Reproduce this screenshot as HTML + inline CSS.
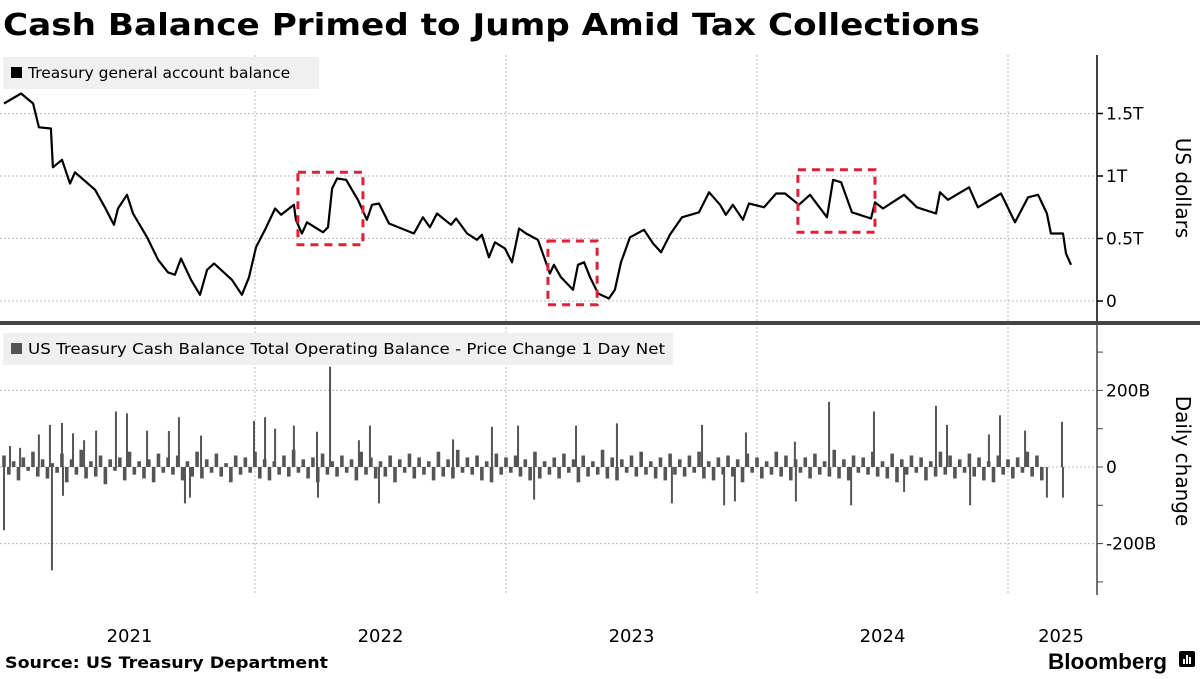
<!DOCTYPE html>
<html><head><meta charset="utf-8"><style>
body{margin:0;background:#fff;width:1200px;height:675px;overflow:hidden;font-family:"DejaVu Sans",sans-serif}
svg text{font-family:"DejaVu Sans",sans-serif}
</style></head><body>
<svg id="c" width="1200" height="675" xmlns="http://www.w3.org/2000/svg">
<text x="3" y="35" font-size="30" font-weight="bold" fill="#000" textLength="977" lengthAdjust="spacingAndGlyphs">Cash Balance Primed to Jump Amid Tax Collections</text>
<g id="grid"></g>
<rect x="3" y="57" width="316" height="32" fill="#f0f0f0"/>
<rect x="11" y="67" width="11" height="11" fill="#000"/>
<text x="28" y="78" font-size="15.5" fill="#000">Treasury general account balance</text>
<rect x="3" y="333" width="670" height="32" fill="#f0f0f0"/>
<rect x="11" y="343" width="11" height="11" fill="#555"/>
<text x="28" y="354" font-size="15.5" fill="#000" textLength="637" lengthAdjust="spacingAndGlyphs">US Treasury Cash Balance Total Operating Balance - Price Change 1 Day Net</text>
<g id="bars"></g>
<path id="line" fill="none" stroke="#000" stroke-width="2.2" stroke-linejoin="round"/>
<g id="boxes"></g>
<g id="axes"></g>
<rect x="0" y="321" width="1200" height="4" fill="#444"/>
<text transform="translate(1176,188) rotate(90)" text-anchor="middle" font-size="20" fill="#000">US dollars</text>
<text transform="translate(1176,461) rotate(90)" text-anchor="middle" font-size="20" fill="#000">Daily change</text>
<text x="5" y="668" font-size="16" font-weight="bold" fill="#000" textLength="323" lengthAdjust="spacingAndGlyphs">Source: US Treasury Department</text>
<text x="1167" y="669" text-anchor="end" font-size="22" font-weight="bold" fill="#000" style="font-family:'Liberation Sans',sans-serif" textLength="119" lengthAdjust="spacingAndGlyphs">Bloomberg</text>
<g><rect x="1179" y="651" width="16" height="16" rx="2" fill="#000"/><rect x="1183" y="659" width="2" height="5" fill="#fff"/><rect x="1186" y="655" width="2" height="9" fill="#fff"/><rect x="1189" y="657" width="2" height="7" fill="#fff"/></g>
</svg>
<script>
const lineDates=[2021.000,2021.068,2021.116,2021.139,2021.187,2021.195,2021.231,2021.263,2021.283,2021.363,2021.402,2021.438,2021.454,2021.490,2021.514,2021.570,2021.614,2021.653,2021.681,2021.705,2021.745,2021.781,2021.809,2021.837,2021.908,2021.948,2021.976,2022.004,2022.040,2022.080,2022.104,2022.155,2022.163,2022.187,2022.207,2022.271,2022.291,2022.307,2022.327,2022.363,2022.410,2022.446,2022.466,2022.494,2022.534,2022.633,2022.669,2022.697,2022.725,2022.781,2022.801,2022.845,2022.884,2022.904,2022.932,2022.956,2022.996,2023.024,2023.052,2023.080,2023.127,2023.175,2023.191,2023.219,2023.267,2023.287,2023.311,2023.335,2023.367,2023.410,2023.434,2023.458,2023.494,2023.550,2023.586,2023.618,2023.653,2023.701,2023.769,2023.809,2023.853,2023.876,2023.904,2023.944,2023.968,2024.028,2024.076,2024.112,2024.167,2024.211,2024.279,2024.303,2024.335,2024.378,2024.454,2024.470,2024.502,2024.586,2024.637,2024.713,2024.729,2024.761,2024.845,2024.880,2024.972,2025.028,2025.080,2025.120,2025.155,2025.171,2025.219,2025.231,2025.251];
const lineValues=[1.58,1.66,1.58,1.39,1.38,1.07,1.13,0.94,1.03,0.89,0.75,0.61,0.74,0.85,0.70,0.51,0.33,0.23,0.21,0.34,0.17,0.05,0.25,0.30,0.17,0.05,0.19,0.43,0.57,0.74,0.69,0.77,0.65,0.54,0.63,0.55,0.59,0.90,0.98,0.97,0.81,0.65,0.77,0.78,0.62,0.54,0.67,0.59,0.70,0.61,0.66,0.54,0.49,0.53,0.35,0.47,0.42,0.31,0.58,0.54,0.49,0.22,0.29,0.19,0.09,0.29,0.31,0.19,0.06,0.02,0.09,0.31,0.51,0.57,0.46,0.39,0.53,0.67,0.71,0.87,0.77,0.69,0.77,0.65,0.78,0.75,0.86,0.86,0.77,0.85,0.67,0.97,0.95,0.71,0.66,0.79,0.74,0.85,0.75,0.70,0.87,0.81,0.91,0.75,0.86,0.63,0.83,0.85,0.70,0.54,0.54,0.38,0.29];
const weeklyChange=[30,-20,15,-35,25,-10,40,-25,20,-30,10,-15,35,-40,20,-20,45,-30,15,-25,30,-45,20,-10,25,-35,40,-20,15,-30,20,-40,35,-15,25,-20,30,-35,15,-25,40,-30,20,-15,35,-25,10,-40,30,-20,25,-15,40,-30,20,-35,15,-20,30,-25,45,-15,20,-30,25,-40,35,-20,15,-25,30,-15,20,-35,40,-20,25,-30,15,-25,30,-40,20,-15,35,-30,25,-20,15,-35,40,-25,20,-30,45,-15,25,-20,30,-35,15,-40,35,-20,25,-15,30,-25,20,-35,40,-30,15,-20,25,-30,35,-15,20,-40,30,-25,15,-20,45,-30,25,-35,20,-15,30,-25,40,-20,15,-30,25,-35,35,-20,20,-25,30,-15,40,-30,15,-35,25,-20,30,-25,20,-40,35,-15,25,-30,15,-20,40,-25,30,-35,20,-15,25,-30,35,-20,15,-25,45,-30,20,-35,30,-15,25,-20,40,-25,15,-30,35,-40,20,-20,30,-15,25,-35,15,-25,40,-20,30,-30,20,-15,35,-25,25,-35,15,-40,30,-20,20,-30,25,-15,40,-25,30,-35];
const spikeDates=[2021.000,2021.024,2021.064,2021.139,2021.183,2021.191,2021.231,2021.235,2021.275,2021.319,2021.367,2021.446,2021.490,2021.570,2021.657,2021.697,2021.721,2021.741,2021.785,2021.996,2022.040,2022.080,2022.155,2022.247,2022.251,2022.299,2022.414,2022.458,2022.494,2022.789,2022.944,2023.048,2023.112,2023.279,2023.442,2023.661,2023.781,2023.869,2023.912,2023.956,2024.151,2024.155,2024.287,2024.375,2024.466,2024.586,2024.713,2024.757,2024.849,2024.924,2024.968,2025.068,2025.155,2025.215,2025.219];
const spikeValues=[-165,55,50,85,110,-270,115,-75,88,70,95,145,140,95,94,130,-95,-80,82,120,130,100,108,92,-80,262,70,108,-95,72,105,108,-85,108,114,-95,110,-100,-90,90,66,-90,170,-100,145,-65,160,110,-100,85,135,95,-80,118,-80];
const topTicks=[0,0.5,1,1.5], topTickLabels=["0","0.5T","1T","1.5T"];
const botTicks=[-200,0,200], botTickLabels=["-200B","0","200B"];
const years=[2021,2022,2023,2024,2025], yearLabels=["2021","2022","2023","2024","2025"];
const boxX0=[2022.171,2023.167,2024.163], boxX1=[2022.430,2023.363,2024.470], boxTop=[1.03,0.48,1.05], boxBot=[0.45,-0.03,0.55];

const NS="http://www.w3.org/2000/svg";
const X=t=>4+(t-2021)*251;
const Yt=v=>301-v*125;
const Yb=v=>467-v*0.383;
function mk(tag,attrs,parent){const e=document.createElementNS(NS,tag);for(const k in attrs)e.setAttribute(k,attrs[k]);parent.appendChild(e);return e;}
const grid=document.getElementById('grid'),axes=document.getElementById('axes'),bars=document.getElementById('bars'),boxes=document.getElementById('boxes');
for(let i=1;i<years.length;i++){const x=X(years[i]);
 const g=mk('line',{x1:x,x2:x,y1:55,y2:595,stroke:'#bbb','stroke-width':1,'stroke-dasharray':'2,2'},grid);
 
 }
topTicks.forEach((v,i)=>{const y=Yt(v);
 const g=mk('line',{x1:0,x2:1097,y1:y,y2:y,stroke:'#bbb','stroke-width':1,'stroke-dasharray':'2,2'},grid);
 
 
 const t=mk('line',{x1:1097,x2:1103,y1:y,y2:y,stroke:'#000','stroke-width':1.5},axes);
 
 
 const l=mk('text',{x:1106,y:y+6,'font-size':17,fill:'#000'},axes);l.textContent=topTickLabels[i];
 
 });
botTicks.forEach((v,i)=>{const y=Yb(v);
 const g=mk('line',{x1:0,x2:1097,y1:y,y2:y,stroke:'#bbb','stroke-width':1,'stroke-dasharray':'2,2'},grid);
 
 
 const l=mk('text',{x:1106,y:y+6,'font-size':17,fill:'#000'},axes);l.textContent=botTickLabels[i];
 
 });
for(let v=-300;v<=300;v+=100){const y=Yb(v);
 const t=mk('line',{x1:1097,x2:1103,y1:y,y2:y,stroke:'#444','stroke-width':1},axes);
 
 }
const a1=mk('line',{x1:1097,x2:1097,y1:55,y2:321,stroke:'#000','stroke-width':1.5},axes);


const a2=mk('line',{x1:1097,x2:1097,y1:325,y2:595,stroke:'#444','stroke-width':1.5},axes);


years.forEach((yr,i)=>{const mid=i<years.length-1?(X(yr)+X(yr+1))/2:X(yr)+53;
 const l=mk('text',{x:mid,y:642,'font-size':18,fill:'#000','text-anchor':'middle'},axes);l.textContent=yearLabels[i];
 
 });
weeklyChange.forEach((v,i)=>{const x=X(2021+i/52);const y0=Yb(0),y=Yb(v);
 const b=mk('rect',{x:x-1.8,y:Math.min(y0,y),width:3.6,height:Math.max(1,Math.abs(y-y0)),fill:'#555'},bars);
 
 });
spikeDates.forEach((d,i)=>{const x=X(d);const y0=Yb(0),y=Yb(spikeValues[i]);
 const b=mk('rect',{x:x-1,y:Math.min(y0,y),width:2,height:Math.abs(y-y0),fill:'#555'},bars);
 
 });
document.getElementById('line').setAttribute('d',lineDates.map((d,i)=>(i?'L':'M')+X(d).toFixed(1)+','+Yt(lineValues[i]).toFixed(1)).join(''));
boxX0.forEach((d,i)=>{const x0=X(d),x1=X(boxX1[i]),y0=Yt(boxTop[i]),y1=Yt(boxBot[i]);
 const r=mk('rect',{x:x0,y:y0,width:x1-x0,height:y1-y0,fill:'none',stroke:'#e0203a','stroke-width':3,'stroke-dasharray':'8,6'},boxes);
 
 });
</script>
</body></html>
